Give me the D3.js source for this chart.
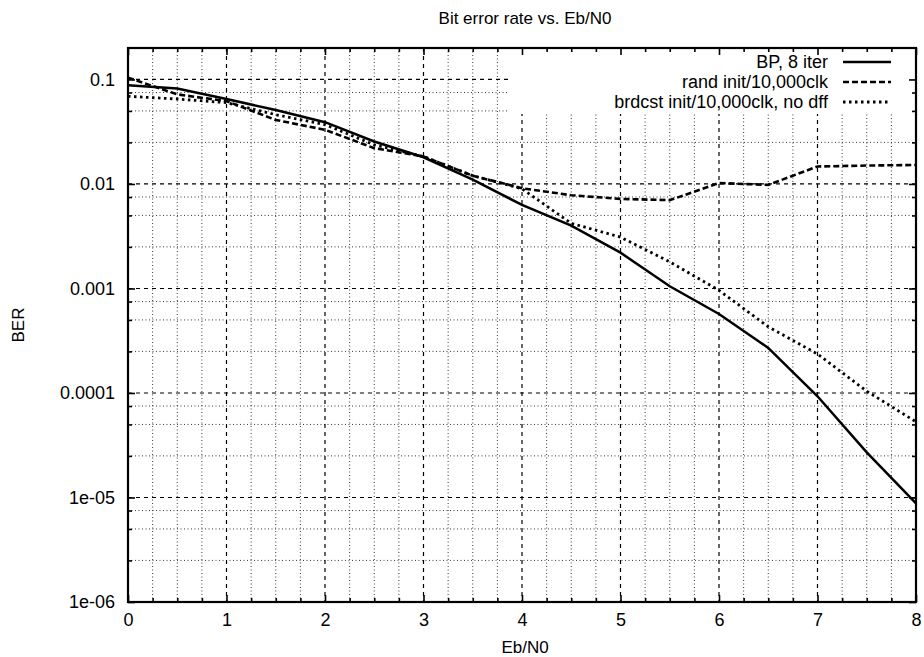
<!DOCTYPE html>
<html>
<head>
<meta charset="utf-8">
<script src="https://cdn.jsdelivr.net/npm/d3@7"></script>
<style>
  body { margin: 0; background: #fff; }
  svg text { font-family: "Liberation Sans", Arial, Helvetica, sans-serif; fill: #000; }
</style>
</head>
<body>
<div id="chart"></div>
<script>
// data
var ebn0 = [0, 0.5, 1, 1.5, 2, 2.5, 3, 3.5, 4, 4.5, 5, 5.5, 6, 6.5, 7, 7.5, 8];
var berBP = [0.088, 0.082, 0.065, 0.051, 0.039, 0.0255, 0.018, 0.011, 0.0063, 0.0040, 0.0022,
             0.00105, 0.00057, 0.00027, 0.000093, 0.000027, 0.0000088];
var berRand = [0.104, 0.072, 0.062, 0.041, 0.033, 0.022, 0.0183, 0.012, 0.0091, 0.0078, 0.0072,
               0.0070, 0.0102, 0.0098, 0.0147, 0.015, 0.0152];
var berBrdcst = [0.069, 0.065, 0.060, 0.046, 0.037, 0.0237, 0.0183, 0.012, 0.0090, 0.0042, 0.0031,
                 0.0018, 0.00096, 0.00043, 0.000236, 0.000104, 0.000053];
var seriesNames = ["BP, 8 iter", "rand init/10,000clk", "brdcst init/10,000clk, no dff"];

var xTicks = [0, 1, 2, 3, 4, 5, 6, 7, 8];
var yTicks = [0.1, 0.01, 0.001, 0.0001, 0.00001, 0.000001];
var yTickLabels = ["0.1", "0.01", "0.001", "0.0001", "1e-05", "1e-06"];

var margin = {top: 48, right: 8, bottom: 55, left: 128};
var width = 924 - margin.left - margin.right;
var height = 657 - margin.top - margin.bottom;

var svg = d3.select("#chart").append("svg")
  .attr("width", 924)
  .attr("height", 657);

var g = svg.append("g")
  .attr("transform", "translate(" + margin.left + "," + margin.top + ")");

var x = d3.scaleLinear().domain([0, 8]).range([0, width]);
var y = d3.scaleLog().domain([1e-6, 0.2]).range([height, 0]);

// minor ticks: quarters on x, 2.5/5/7.5 per decade on y
var xMinor = d3.range(0, 8.001, 0.25).filter(function(d) { return d % 1 !== 0; });
var yMinor = [];
yTicks.forEach(function(t) {
  [2.5, 5, 7.5].forEach(function(m) {
    var v = t * m;
    if (v < 0.2) yMinor.push(v);
  });
});

// grid
var grid = g.append("g").attr("class", "grid");
grid.selectAll(".vminor").data(xMinor).enter().append("line")
  .attr("x1", function(d) { return x(d); }).attr("x2", function(d) { return x(d); })
  .attr("y1", 0).attr("y2", height)
  .attr("stroke", "#222").attr("stroke-width", 0.9).attr("stroke-dasharray", "1,2.5");
grid.selectAll(".hminor").data(yMinor).enter().append("line")
  .attr("x1", 0).attr("x2", width)
  .attr("y1", function(d) { return y(d); }).attr("y2", function(d) { return y(d); })
  .attr("stroke", "#222").attr("stroke-width", 0.9).attr("stroke-dasharray", "1,2.5");
grid.selectAll(".vmajor").data(xTicks).enter().append("line")
  .attr("x1", function(d) { return x(d); }).attr("x2", function(d) { return x(d); })
  .attr("y1", 0).attr("y2", height)
  .attr("stroke", "#000").attr("stroke-width", 1.2).attr("stroke-dasharray", "4,4");
grid.selectAll(".hmajor").data(yTicks).enter().append("line")
  .attr("x1", 0).attr("x2", width)
  .attr("y1", function(d) { return y(d); }).attr("y2", function(d) { return y(d); })
  .attr("stroke", "#000").attr("stroke-width", 1.2).attr("stroke-dasharray", "4,4");

// key area is cleared
g.append("rect")
  .attr("x", 380).attr("y", 0)
  .attr("width", width - 380).attr("height", 66)
  .attr("fill", "#fff");

// curves
var styles = [
  {data: berBP, dash: null, w: 2.5},
  {data: berRand, dash: "6,3", w: 2.6},
  {data: berBrdcst, dash: "2.5,3.5", w: 2.8}
];

var line = d3.line()
  .x(function(d) { return x(d[0]); })
  .y(function(d) { return y(d[1]); });

styles.forEach(function(s) {
  g.append("path")
    .datum(ebn0.map(function(e, i) { return [e, s.data[i]]; }))
    .attr("fill", "none")
    .attr("stroke", "#000")
    .attr("stroke-width", s.w)
    .attr("stroke-dasharray", s.dash)
    .attr("d", line);
});

// axes (ticks point inward, mirrored)
var fmtY = function(d) { return yTickLabels[yTicks.indexOf(d)]; };

var yAxis = g.append("g")
  .call(d3.axisLeft(y).tickValues(yTicks).tickFormat(fmtY).tickSize(-7).tickPadding(13));
g.append("g").call(d3.axisLeft(y).tickValues(yMinor).tickFormat("").tickSize(-4));
g.append("g").attr("transform", "translate(" + width + ",0)")
  .call(d3.axisRight(y).tickValues(yTicks).tickFormat("").tickSize(-7));
g.append("g").attr("transform", "translate(" + width + ",0)")
  .call(d3.axisRight(y).tickValues(yMinor).tickFormat("").tickSize(-4));

var xAxis = g.append("g").attr("transform", "translate(0," + height + ")")
  .call(d3.axisBottom(x).tickValues(xTicks).tickFormat(d3.format("d")).tickSize(-7).tickPadding(11));
g.append("g").attr("transform", "translate(0," + height + ")")
  .call(d3.axisBottom(x).tickValues(xMinor).tickFormat("").tickSize(-4));
g.append("g")
  .call(d3.axisTop(x).tickValues(xTicks).tickFormat("").tickSize(-7));
g.append("g")
  .call(d3.axisTop(x).tickValues(xMinor).tickFormat("").tickSize(-4));

g.selectAll(".domain").remove();
g.selectAll(".tick line").attr("stroke", "#000").attr("stroke-width", 1.6);
g.selectAll(".tick text").attr("font-size", "18px").attr("font-family", null);

// border
g.append("rect")
  .attr("x", 0).attr("y", 0)
  .attr("width", width).attr("height", height)
  .attr("fill", "none")
  .attr("stroke", "#000")
  .attr("stroke-width", 2.2);

// titles
svg.append("text")
  .attr("x", margin.left + width / 2 + 3).attr("y", 24)
  .attr("text-anchor", "middle").attr("font-size", "17px")
  .text("Bit error rate vs. Eb/N0");

svg.append("text")
  .attr("x", margin.left + width / 2 + 3).attr("y", 653)
  .attr("text-anchor", "middle").attr("font-size", "17px")
  .text("Eb/N0");

svg.append("text")
  .attr("transform", "translate(24,325) rotate(-90)")
  .attr("text-anchor", "middle").attr("font-size", "17px")
  .text("BER");

// legend
var legend = g.append("g").attr("transform", "translate(" + (828 - margin.left) + "," + (62 - margin.top) + ")");
styles.forEach(function(s, i) {
  var row = legend.append("g").attr("transform", "translate(0," + (i * 20) + ")");
  row.append("text")
    .attr("x", 0).attr("y", 6)
    .attr("text-anchor", "end").attr("font-size", "18px")
    .text(seriesNames[i]);
  row.append("line")
    .attr("x1", 15).attr("x2", 63)
    .attr("y1", 0).attr("y2", 0)
    .attr("stroke", "#000")
    .attr("stroke-width", s.w)
    .attr("stroke-dasharray", s.dash);
});
</script>
</body>
</html>
